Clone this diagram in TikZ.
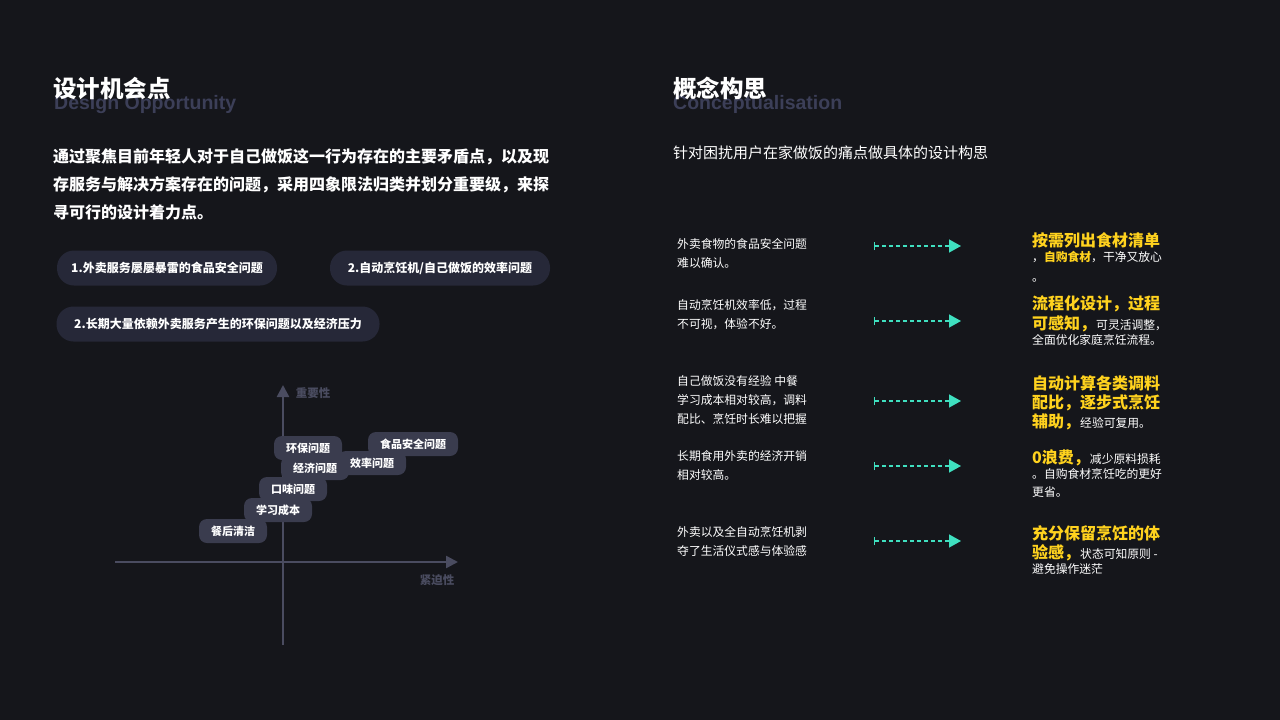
\documentclass[tikz,border=0pt]{standalone}
\usepackage{fontspec}
\setmainfont{Noto Sans CJK SC}
\newfontfamily\latinfont{Liberation Sans}
\usetikzlibrary{arrows.meta, positioning}
\definecolor{bgc}{HTML}{15161B}
\definecolor{pillc}{HTML}{262838}
\definecolor{chipc}{HTML}{3A3C4E}
\definecolor{axisc}{HTML}{4A4C60}
\definecolor{subc}{HTML}{3C3F58}
\definecolor{hlc}{HTML}{FFD21E}
\definecolor{arrc}{HTML}{3FE0C0}

\tikzset{
  title/.style={anchor=base west, inner sep=0pt, text=white, font=\fontsize{23.5}{23.5}\selectfont\bfseries},
  subtitle/.style={anchor=base west, inner sep=0pt, text=subc, font=\latinfont\fontsize{19.5}{19.5}\selectfont\bfseries},
  para/.style={anchor=base west, inner sep=0pt, text=white, font=\fontsize{16}{16}\selectfont\bfseries},
  pill/.style={fill=pillc, rounded corners=17pt, minimum height=35pt, text=white, font=\fontsize{12}{12}\selectfont\bfseries},
  chip/.style={fill=chipc, rounded corners=8pt, minimum height=24pt, inner xsep=12pt, text=white, font=\fontsize{11}{11}\selectfont\bfseries},
  small/.style={anchor=base west, inner sep=0pt, text=white, font=\fontsize{11.8}{11.8}\selectfont},
  big/.style={anchor=base west, inner sep=0pt, text=hlc, font=\fontsize{16}{16}\selectfont\bfseries},
  flow/.style={arrc, dash pattern=on 4pt off 3pt, line width=1.3pt, {Bar[width=8pt]}-{Triangle[width=13pt, length=12pt, sep=0pt]}},
  axis/.style={axisc, line width=2.5pt, -{Triangle[width=12pt, length=12pt]}},
}

\begin{document}
\begin{tikzpicture}[x=1pt, y=-1pt]
  \useasboundingbox[fill=bgc] (0,0) rectangle (1280,720);

  % left column
  \node[subtitle] (dsub) at (54,109) {Design Opportunity};
  \node[title]    (dtit) at (53,97)  {设计机会点};
  \node[para] (p1) at (53,162) {通过聚焦目前年轻人对于自己做饭这一行为存在的主要矛盾点，以及现};
  \node[para] (p2) at (53,190) {存服务与解决方案存在的问题，采用四象限法归类并划分重要级，来探};
  \node[para] (p3) at (53,218) {寻可行的设计着力点。};

  \node[pill, minimum width=220pt] (k1) at (167,268) {1.外卖服务屡屡暴雷的食品安全问题};
  \node[pill, minimum width=220pt] (k2) at (440,268) {2.自动烹饪机/自己做饭的效率问题};
  \node[pill, minimum width=323pt] (k3) at (218,324) {2.长期大量依赖外卖服务产生的环保问题以及经济压力};

  % quadrant
  \coordinate (vb) at (283,645);  \coordinate (vt) at (283,385);
  \coordinate (hl) at (115,562);  \coordinate (hr) at (458,562);
  \draw[axis] (vb) -- (vt);
  \draw[axis] (hl) -- (hr);
  \node[text=axisc, font=\fontsize{11.5}{11.5}\selectfont\bfseries] (ylab) at (313,393) {重要性};
  \node[text=axisc, font=\fontsize{11.5}{11.5}\selectfont\bfseries] (xlab) at (437,580) {紧迫性};

  \node[chip] (c1) at (413,444) {食品安全问题};
  \node[chip] (c2) at (308,448) {环保问题};
  \node[chip] (c4) at (372,463) {效率问题};
  \node[chip] (c3) at (315,468) {经济问题};
  \node[chip] (c5) at (293,489) {口味问题};
  \node[chip] (c6) at (278,510) {学习成本};
  \node[chip] (c7) at (233,531) {餐后清洁};

  % right column
  \node[subtitle] (csub) at (673,109) {Conceptualisation};
  \node[title]    (ctit) at (673,97)  {概念构思};
  \node[anchor=base west, inner sep=0pt, text=white, font=\fontsize{15}{15}\selectfont] (cp) at (673,158) {针对困扰用户在家做饭的痛点做具体的设计构思};

  % problems
  \node[small] (l1a) at (677,248) {外卖食物的食品安全问题};
  \node[small] (l1b) at (677,267) {难以确认。};
  \node[small] (l2a) at (677,309) {自动烹饪机效率低，过程};
  \node[small] (l2b) at (677,328) {不可视，体验不好。};
  \node[small] (l3a) at (677,385) {自己做饭没有经验 中餐};
  \node[small] (l3b) at (677,404) {学习成本相对较高，调料};
  \node[small] (l3c) at (677,423) {配比、烹饪时长难以把握};
  \node[small] (l4a) at (677,460) {长期食用外卖的经济开销};
  \node[small] (l4b) at (677,479) {相对较高。};
  \node[small] (l5a) at (677,536) {外卖以及全自动烹饪机剥};
  \node[small] (l5b) at (677,555) {夺了生活仪式感与体验感};

  % arrows
  \foreach \i/\y in {1/246, 2/321, 3/401, 4/466, 5/541} {
    \coordinate (s\i) at (874,\y);
    \coordinate (e\i) at (961,\y);
    \draw[flow] (s\i) -- (e\i);
  }

  % ideas
  \node[big] (r1a) at (1032,246) {按需列出食材清单};
  \node[small] (r1b) at (1032,261) {，\textcolor{hlc}{\bfseries 自购食材}，干净又放心};
  \node[small] (r1c) at (1032,281) {。};
  \node[big] (r2a) at (1032,309) {流程化设计，过程};
  \node[big] (r2b) at (1032,329) {可感知，\fontsize{11.8}{11.8}\selectfont\mdseries\color{white} 可灵活调整，};
  \node[small] (r2c) at (1032,344) {全面优化家庭烹饪流程。};
  \node[big] (r3a) at (1032,389) {自动计算各类调料};
  \node[big] (r3b) at (1032,408) {配比，逐步式烹饪};
  \node[big] (r3c) at (1032,427) {辅助，\fontsize{11.8}{11.8}\selectfont\mdseries\color{white}经验可复用。};
  \node[big] (r4a) at (1032,463) {0浪费，\fontsize{11.8}{11.8}\selectfont\mdseries\color{white}减少原料损耗};
  \node[small] (r4b) at (1032,478) {。自购食材烹饪吃的更好};
  \node[small] (r4c) at (1032,496) {更省。};
  \node[big] (r5a) at (1032,539) {充分保留烹饪的体};
  \node[big] (r5b) at (1032,558) {验感，\fontsize{11.8}{11.8}\selectfont\mdseries\color{white} 状态可知原则 -};
  \node[small] (r5c) at (1032,573) {避免操作迷茫};
\end{tikzpicture}
\end{document}
